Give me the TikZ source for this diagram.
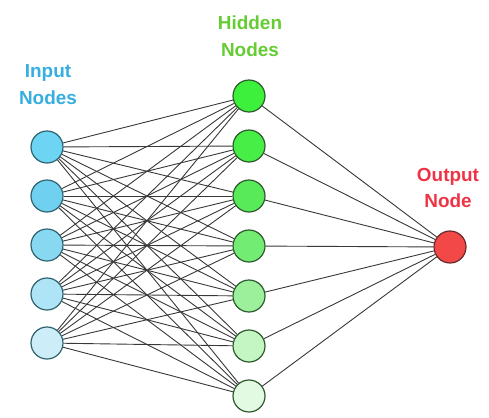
\documentclass[tikz,border=0pt]{standalone}
\usepackage{fontspec}
\setmainfont{Liberation Sans}
\begin{document}
\begin{tikzpicture}[x=1bp,y=-1bp,
  neuron/.style={circle,draw,line width=1.2bp,minimum size=32bp,inner sep=0pt},
  innode/.style={neuron,draw=instroke},
  hidnode/.style={neuron,draw=hidstroke},
  outnode/.style={neuron,draw=outstroke,fill=outfill},
  link/.style={draw=black!78,line width=0.9bp},
  lbl/.style={font=\fontsize{19}{27}\selectfont\bfseries,align=center}]
\definecolor{in1}{HTML}{6DD4F4}
\definecolor{in2}{HTML}{70D0F0}
\definecolor{in3}{HTML}{88D8F2}
\definecolor{in4}{HTML}{AEE4F6}
\definecolor{in5}{HTML}{CDEEF9}
\definecolor{hd1}{HTML}{3CF03C}
\definecolor{hd2}{HTML}{46EE46}
\definecolor{hd3}{HTML}{58EA58}
\definecolor{hd4}{HTML}{72EC72}
\definecolor{hd5}{HTML}{9CF09C}
\definecolor{hd6}{HTML}{C4F6C4}
\definecolor{hd7}{HTML}{E2FAE2}
\definecolor{outfill}{HTML}{F24848}
\definecolor{instroke}{HTML}{2E6470}
\definecolor{hidstroke}{HTML}{2E5A2E}
\definecolor{outstroke}{HTML}{6A2A2A}
\definecolor{intext}{HTML}{36AEE0}
\definecolor{hidtext}{HTML}{66CC33}
\definecolor{outtext}{HTML}{EE3344}
\useasboundingbox (0,0) rectangle (489,417);
% input layer
\foreach \i/\y in {1/147,2/196,3/245,4/294,5/343}
  \node[innode,fill=in\i] (i\i) at (47,\y) {};
% hidden layer
\foreach \j/\y in {1/96,2/146,3/196,4/246,5/296,6/346,7/396}
  \node[hidnode,fill=hd\j] (h\j) at (249,\y) {};
% output node
\node[outnode] (o) at (450,247) {};
% connections: every input to every hidden node, every hidden node to the output
\foreach \i in {1,...,5}
  \foreach \j in {1,...,7}
    \draw[link] (i\i) -- (h\j);
\foreach \j in {1,...,7}
  \draw[link] (h\j) -- (o);
% layer labels
\node[lbl,text=intext] (tin) at (48,85) {Input\\Nodes};
\node[lbl,text=hidtext] (thid) at (250,36) {Hidden\\Nodes};
\node[lbl,text=outtext] (tout) at (448,188) {Output\\Node};
\end{tikzpicture}
\end{document}
